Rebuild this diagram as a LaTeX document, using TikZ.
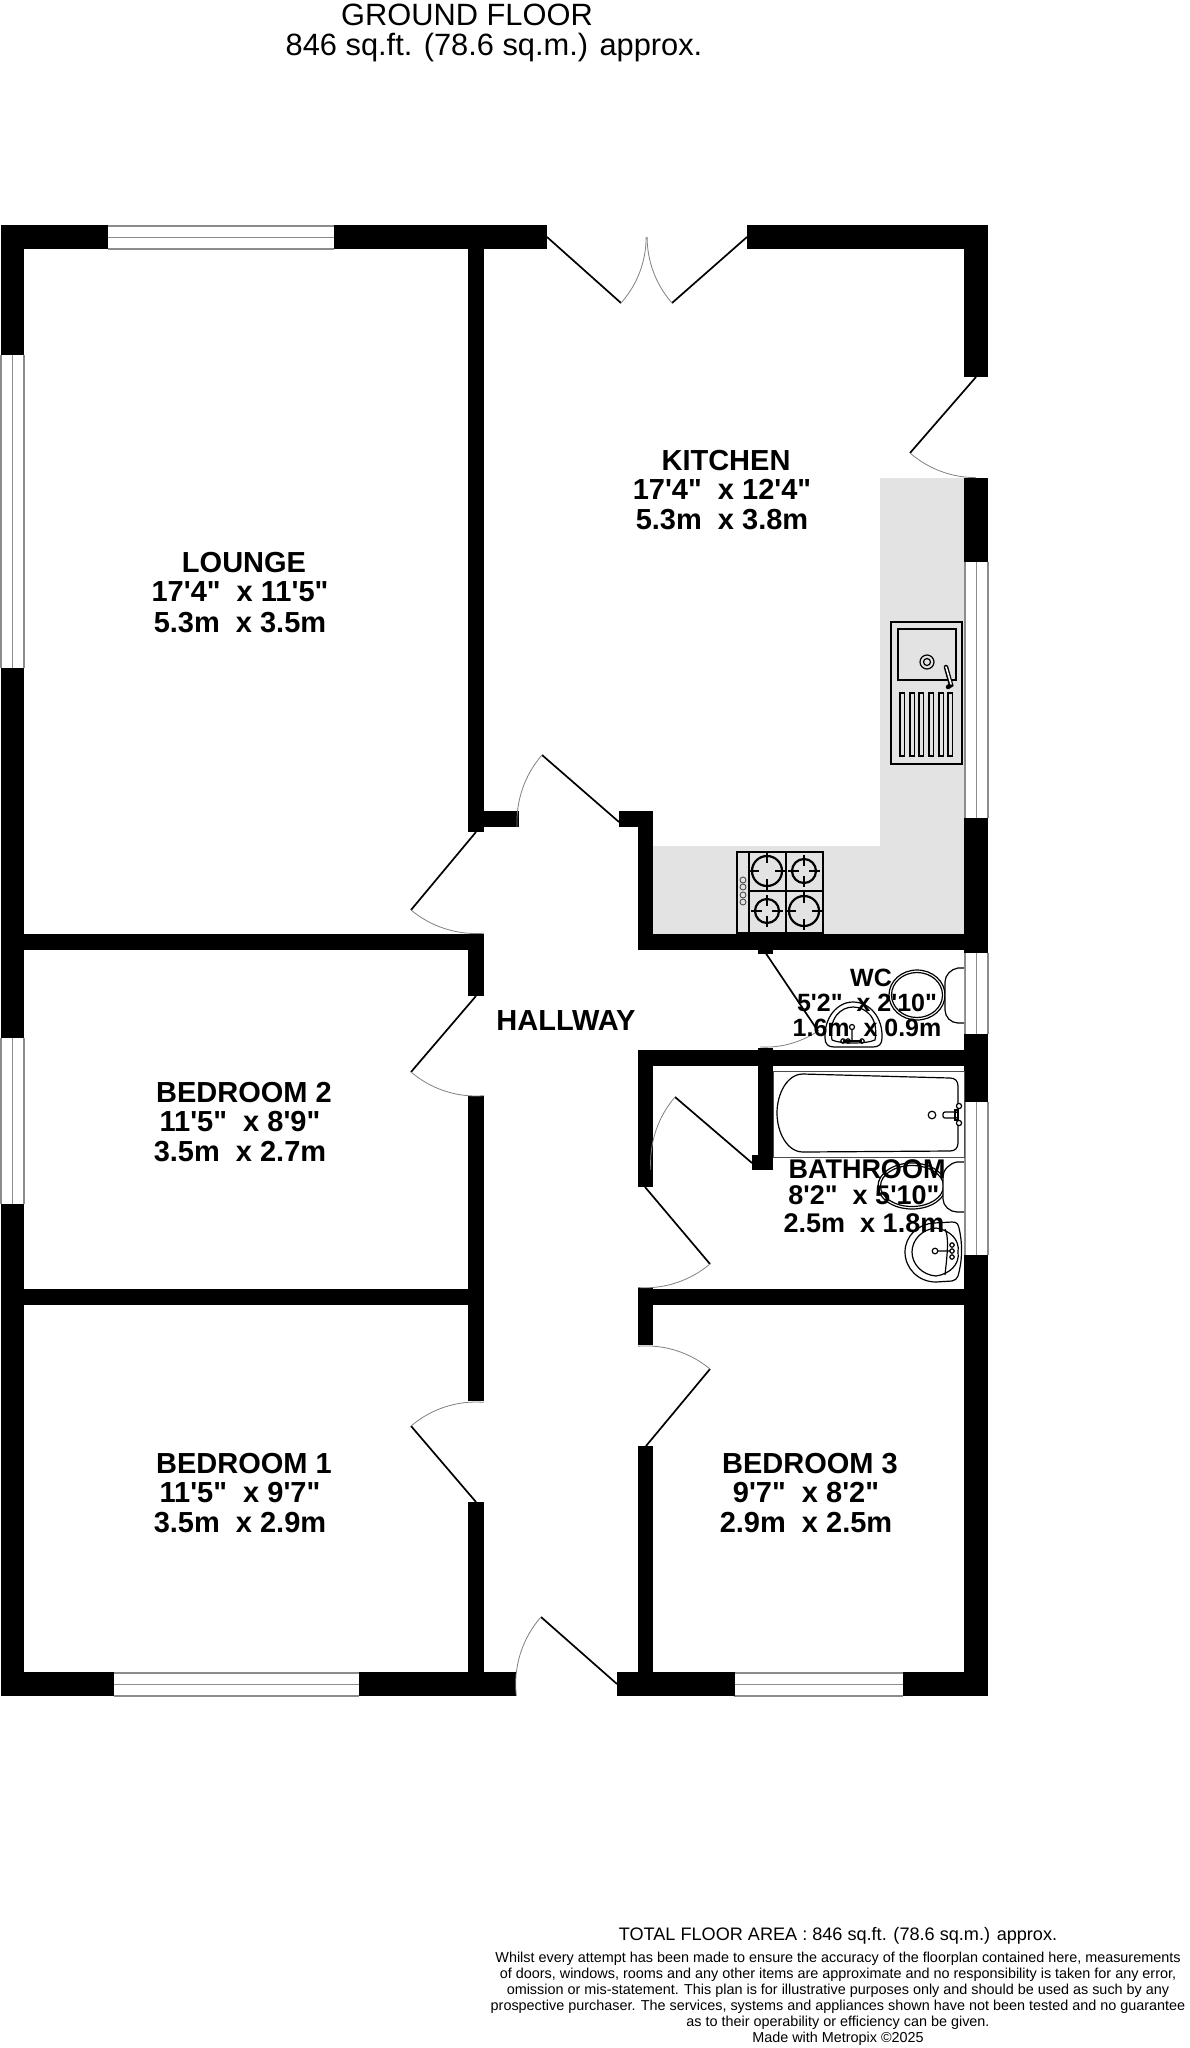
\documentclass[tikz,border=0pt]{standalone}
\usepackage{fontspec}
\newfontfamily\lib{Liberation Sans}
\definecolor{counter}{HTML}{E3E3E3}
\definecolor{frameg}{HTML}{8C8C8C}
\tikzset{
  wallfill/.style={fill=black},
  winline/.style={draw=frameg,line width=1.5pt},
  leaf/.style={draw=black,line width=1.7pt},
  swing/.style={draw=gray,line width=0.8pt},
  fixture/.style={draw=black,line width=1.2pt},
  fixfill/.style={draw=black,line width=1.2pt,fill=white},
  thick fixture/.style={draw=black,line width=2.2pt},
  roomname/.style={anchor=base,font=\lib\bfseries\fontsize{29}{31}\selectfont,inner sep=0pt},
  bathname/.style={anchor=base,font=\lib\bfseries\fontsize{27}{29}\selectfont,inner sep=0pt},
  wcname/.style={anchor=base,font=\lib\bfseries\fontsize{25}{27}\selectfont,inner sep=0pt},
  title/.style={anchor=base,font=\lib\fontsize{30.8}{33}\selectfont,inner sep=0pt},
}
\newcommand{\wallbox}[4]{\fill[wallfill] (#1,#2) rectangle (#3,#4);}
\newcommand{\hwin}[3]{\draw[winline] (#1,#3) -- (#2,#3) (#1,#3+11.5) -- (#2,#3+11.5) (#1,#3+23) -- (#2,#3+23);}
\newcommand{\vwin}[3]{\draw[winline] (#3,#1) -- (#3,#2) (#3+11.5,#1) -- (#3+11.5,#2) (#3+23,#1) -- (#3+23,#2);}
\newcommand{\doorswing}[6]{%
  \pgfmathsetmacro\aS{atan2(#4-#2,#3-#1)}%
  \pgfmathsetmacro\aE{atan2(#6-#2,#5-#1)}%
  \pgfmathsetmacro\aD{mod(\aE-\aS+540,360)-180}%
  \pgfmathsetmacro\rr{veclen(#3-#1,#4-#2)}%
  \draw[leaf] (#1,#2) -- (#3,#4);%
  \draw[swing] (#3,#4) arc[start angle=\aS,delta angle=\aD,radius=\rr];}
\newcommand{\burner}[3]{%
  \draw[thick fixture] (#1,#2) circle (#3);
  \draw[fixture] (#1,#2-#3-4) -- (#1,#2-#3+7) (#1,#2+#3-7) -- (#1,#2+#3+4)
    (#1-#3-4,#2) -- (#1-#3+7,#2) (#1+#3-7,#2) -- (#1+#3+4,#2);}
\begin{document}
\begin{tikzpicture}[x=1pt,y=-1pt]
\useasboundingbox (0,0) rectangle (1190,2048);
% counters
\fill[counter] (880,478) rectangle (964,934);
\fill[counter] (653,846) rectangle (964,934);
% windows
\hwin{108}{334}{226}
\hwin{114}{359}{1673}
\hwin{734}{903}{1673}
\vwin{355}{668}{1}
\vwin{1038}{1204}{1}
\vwin{562}{818}{965}
\vwin{953}{1034}{965}
\vwin{1102}{1255}{965}
% walls
\wallbox{1}{225}{108}{249}
\wallbox{334}{225}{547}{249}
\wallbox{747}{225}{988}{249}
\wallbox{1}{225}{24}{355}
\wallbox{1}{668}{24}{1038}
\wallbox{1}{1204}{24}{1696}
\wallbox{1}{1672}{114}{1696}
\wallbox{359}{1672}{516}{1696}
\wallbox{617}{1672}{735}{1696}
\wallbox{903}{1672}{988}{1696}
\wallbox{964}{225}{988}{377}
\wallbox{964}{478}{988}{562}
\wallbox{964}{818}{988}{953}
\wallbox{964}{1034}{988}{1102}
\wallbox{964}{1255}{988}{1696}
\wallbox{468}{249}{484}{832}
\wallbox{468}{934}{484}{996}
\wallbox{468}{1096}{484}{1401}
\wallbox{468}{1502}{484}{1672}
\wallbox{484}{811}{519}{827}
\wallbox{619}{811}{653}{827}
\wallbox{638}{811}{653}{950}
\wallbox{638}{1050}{653}{1187}
\wallbox{638}{1288}{653}{1345}
\wallbox{638}{1446}{653}{1672}
\wallbox{24}{934}{468}{950}
\wallbox{638}{934}{988}{950}
\wallbox{24}{1289}{484}{1305}
\wallbox{638}{1289}{988}{1305}
\wallbox{638}{1050}{988}{1066}
\wallbox{758}{1048}{773}{1170}
\wallbox{752}{1155}{773}{1170}
\wallbox{758}{950}{773}{954}
% doors
\doorswing{547}{237}{621}{303}{646}{237}
\doorswing{747}{237}{672}{303}{646}{237}
\doorswing{976}{377}{910}{453}{976}{478}
\doorswing{619}{822}{542}{755}{519}{827}
\doorswing{476}{832}{411}{910}{484}{934}
\doorswing{476}{996}{411}{1072}{484}{1096}
\doorswing{476}{1502}{411}{1426}{484}{1401}
\doorswing{646}{1446}{710}{1369}{638}{1345}
\doorswing{645}{1187}{710}{1264}{638}{1288}
\doorswing{752}{1163}{675}{1097}{650}{1170}
\doorswing{617}{1684}{541}{1617}{516}{1696}
\doorswing{765}{952}{818}{1031}{760}{1048}
% sink
\draw[thick fixture] (891,622) rectangle (962,764);
\draw[fixture] (898,629) rectangle (956,680);
\draw[fixture] (927,662) circle (7);
\draw[fixture] (927,662) circle (3.5);
\foreach \rx in {900,910,919,929,939,948} {\draw[fixture] (\rx,693) rectangle (\rx+4.5,756);}
\draw[black,line width=4.5pt,line cap=round] (946,667) -- (951,685) -- (948,687);
\draw[white,line width=1.6pt,line cap=round] (946,667) -- (951,684);
% hob
\draw[thick fixture] (737,852) rectangle (823,933);
\draw[fixture] (749,852) -- (749,933) (786,852) -- (786,933) (749,891) -- (823,891);
\burner{767}{871}{15}
\burner{804}{871}{12}
\burner{767}{911}{12}
\burner{804}{911}{15}
\foreach \ky in {880,887,895,902} {\draw[draw=black!70,line width=0.9pt] (743,\ky) circle (3);}
% bath
\draw[draw=black!70,line width=1pt] (773,1071) rectangle (964,1157);
\draw[fixture] (803,1074) -- (950,1078) .. controls (955,1078) and (958,1081) .. (958,1086)
  -- (958,1143) .. controls (958,1148) and (955,1151) .. (950,1151) -- (803,1152)
  .. controls (787,1152) and (777,1132) .. (777,1113) .. controls (777,1094) and (787,1074) .. (803,1074);
\draw[fixture] (932,1115) circle (3.8);
\draw[fixfill,rounded corners=2pt] (943,1112) rectangle (958,1118);
\draw[fixfill] (959,1106) circle (2.6) (959,1123) circle (2.6);
\draw[fixture] (955,1110) rectangle (958,1120);
% WC toilet
\draw[fixture] (917,995) ellipse (28 and 25);
\draw[fixture] (917,995) ellipse (25.5 and 22.5);
\draw[fixfill] (964,968) -- (958,968) .. controls (951,969) and (945,975) .. (945,982)
  -- (945,1010) .. controls (945,1017) and (951,1023) .. (958,1023) -- (964,1023);
% WC basin
\draw[fixture] (834,1047) -- (873,1047) .. controls (879,1047) and (882,1044) .. (882,1038)
  .. controls (883,1018) and (870,1002) .. (853,1002)
  .. controls (837,1002) and (824,1018) .. (825,1038)
  .. controls (825,1044) and (828,1047) .. (834,1047) -- cycle;
\draw[fixture] (832,1040) .. controls (828,1018) and (841,1007) .. (853,1007)
  .. controls (866,1007) and (879,1018) .. (875,1040) .. controls (866,1044) and (841,1044) .. (832,1040);
\draw[fixture] (852,1027) circle (2.5) (852,1030) -- (852,1040);
\draw[fixture] (843,1041) -- (862,1041);
\draw[fixture] (843,1041) circle (2.2) (848,1041) circle (2.2) (862,1041) circle (2.2);
% bath toilet
\draw[fixture] (912,1186) ellipse (34 and 23);
\draw[fixture] (912,1186) ellipse (31.5 and 20.5);
\draw[fixfill] (964,1162) -- (957,1162) .. controls (950,1163) and (943,1170) .. (943,1176)
  -- (943,1199) .. controls (943,1206) and (950,1212) .. (957,1212) -- (964,1212);
% bath basin
\draw[fixture] (905,1252) .. controls (905,1236) and (918,1224) .. (934,1223)
  -- (952,1222) .. controls (957,1222) and (958,1224) .. (959,1228)
  .. controls (963,1245) and (962,1262) .. (958,1276) .. controls (957,1279) and (955,1280) .. (952,1281)
  -- (936,1282) .. controls (918,1282) and (905,1268) .. (905,1252) -- cycle;
\draw[fixture] (912,1252) .. controls (912,1240) and (922,1229) .. (936,1228)
  .. controls (950,1230) and (960,1240) .. (958,1252) .. controls (960,1264) and (950,1274) .. (936,1276)
  .. controls (922,1275) and (912,1264) .. (912,1252) -- cycle;
\draw[fixture] (945,1229) .. controls (950,1238) and (946,1264) .. (945,1275);
\draw[fixture] (935,1251) circle (2.8) (938,1251) -- (950,1251);
\draw[fixture] (952,1245) circle (2.2) (952,1251) circle (2.2) (952,1257) circle (2.2);
% titles
\node[title] (t1) at (467,25) {GROUND FLOOR};
\node[title] (t2) at (494,55) {846 sq.ft. (78.6 sq.m.) approx.};
% lounge
\node[roomname] (lo1) at (244,572) {LOUNGE};
\node[roomname] (lo2) at (240,601) {17'4"\ \ x 11'5"};
\node[roomname] (lo3) at (240,632) {5.3m\ \ x 3.5m};
% kitchen
\node[roomname] (ki1) at (726,470) {KITCHEN};
\node[roomname] (ki2) at (722,499) {17'4"\ \ x 12'4"};
\node[roomname] (ki3) at (722,529) {5.3m\ \ x 3.8m};
% bedroom 2
\node[roomname] (b21) at (244,1102) {BEDROOM 2};
\node[roomname] (b22) at (240,1131) {11'5"\ \ x 8'9"};
\node[roomname] (b23) at (240,1161) {3.5m\ \ x 2.7m};
% bedroom 1
\node[roomname] (b11) at (244,1473) {BEDROOM 1};
\node[roomname] (b12) at (240,1502) {11'5"\ \ x 9'7"};
\node[roomname] (b13) at (240,1532) {3.5m\ \ x 2.9m};
% bedroom 3
\node[roomname] (b31) at (810,1473) {BEDROOM 3};
\node[roomname] (b32) at (806,1502) {9'7"\ \ x 8'2"};
\node[roomname] (b33) at (806,1532) {2.9m\ \ x 2.5m};
% hallway
\node[roomname] (ha) at (566,1030) {HALLWAY};
% wc
\node[wcname] (wc1) at (871,986) {WC};
\node[wcname] (wc2) at (867,1011) {5'2"\ \ x 2'10"};
\node[wcname] (wc3) at (867,1036) {1.6m\ \ x 0.9m};
% bathroom
\node[bathname] (ba1) at (867,1178) {BATHROOM};
\node[bathname] (ba2) at (864,1204) {8'2"\ \ x 5'10"};
\node[bathname] (ba3) at (864,1232) {2.5m\ \ x 1.8m};
% footer
\node[anchor=base,inner sep=0pt,font=\lib\fontsize{18.1}{20}\selectfont] (tfa) at (838,1940) {TOTAL FLOOR AREA : 846 sq.ft. (78.6 sq.m.) approx.};
\node[anchor=north,inner sep=0pt,align=center,font=\lib\fontsize{14.4}{16}\selectfont] (disc) at (838,1952) {Whilst every attempt has been made to ensure the accuracy of the floorplan contained here, measurements\\
of doors, windows, rooms and any other items are approximate and no responsibility is taken for any error,\\
omission or mis-statement. This plan is for illustrative purposes only and should be used as such by any\\
prospective purchaser. The services, systems and appliances shown have not been tested and no guarantee\\
as to their operability or efficiency can be given.\\
Made with Metropix \textcopyright 2025};
\end{tikzpicture}
\end{document}
